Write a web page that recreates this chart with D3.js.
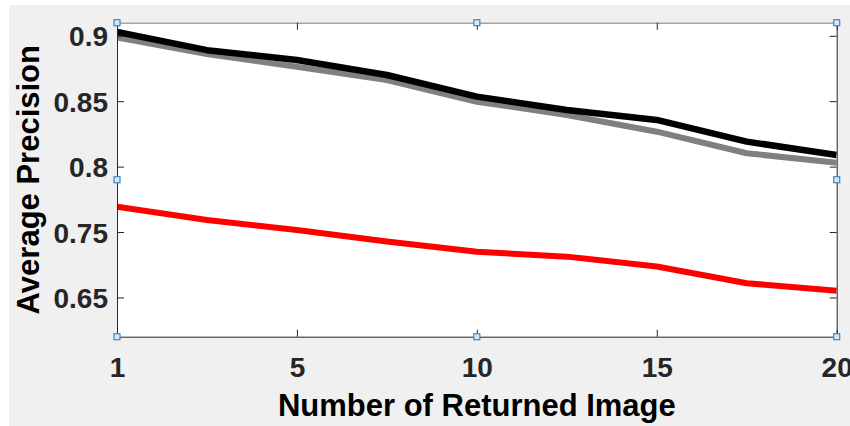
<!DOCTYPE html>
<html>
<head>
    <meta charset="utf-8">
    <script src="https://cdn.jsdelivr.net/npm/d3@7"></script>
    <style>
        html, body { margin: 0; padding: 0; background: white; }
        svg { display: block; }
        text { font-family: "Liberation Sans", Arial, sans-serif; font-weight: bold; }
    </style>
</head>
<body>
    <div id="chart"></div>
    <script>
        // Data points are evenly spaced along x (index 0..8)
        const pointIndex = [0, 1, 2, 3, 4, 5, 6, 7, 8];
        const xTickIndex = [0, 2, 4, 6, 8];
        const xTickLabels = ["1", "5", "10", "15", "20"];

        const yTickValues = [0.9, 0.85, 0.8, 0.75, 0.7];
        const yTickLabels = ["0.9", "0.85", "0.8", "0.75", "0.65"];

        const blackSeries = [0.903, 0.889, 0.8815, 0.870, 0.8535, 0.8433, 0.8357, 0.8191, 0.8089];
        const graySeries  = [0.8988, 0.8860, 0.8764, 0.8662, 0.8496, 0.8395, 0.8267, 0.8102, 0.8030];
        const redSeries   = [0.7694, 0.7592, 0.7516, 0.7427, 0.7350, 0.7312, 0.7236, 0.7109, 0.7052];

        const width = 850;
        const height = 426;
        const margin = { left: 117, top: 22.7, right: 850 - 836.7, bottom: 426 - 336.7 };

        const svg = d3.select("#chart")
            .append("svg")
            .attr("width", width)
            .attr("height", height);

        // figure background
        svg.append("rect")
            .attr("x", 9).attr("y", 5)
            .attr("width", width - 9).attr("height", height - 5)
            .attr("fill", "#f0f0f0");

        const x = d3.scaleLinear()
            .domain([0, 8])
            .range([margin.left, width - margin.right]);

        const y = d3.scaleLinear()
            .domain([0.67, 0.91])
            .range([height - margin.bottom, margin.top]);

        const x0 = x.range()[0], x1 = x.range()[1];
        const y0 = y.range()[0], y1 = y.range()[1];

        // plot area
        svg.append("rect")
            .attr("x", x0).attr("y", y1)
            .attr("width", x1 - x0).attr("height", y0 - y1)
            .attr("fill", "white");

        // lines
        const line = data => d3.line()
            .x((d, i) => x(pointIndex[i]))
            .y(d => y(d))(data);

        const series = [
            { values: graySeries, color: "#808080", w: 6 },
            { values: blackSeries, color: "#000000", w: 6.5 },
            { values: redSeries, color: "#ff0000", w: 6 }
        ];

        svg.append("clipPath").attr("id", "clip")
            .append("rect")
            .attr("x", x0).attr("y", y1)
            .attr("width", x1 - x0).attr("height", y0 - y1);

        svg.append("g")
            .attr("clip-path", "url(#clip)")
            .selectAll("path")
            .data(series)
            .join("path")
            .attr("d", d => line(d.values))
            .attr("fill", "none")
            .attr("stroke", d => d.color)
            .attr("stroke-width", d => d.w)
            .attr("stroke-linejoin", "round");

        // axes with inward ticks
        const tickLen = 7;
        const axisColor = "#262626";

        const bottomAxis = d3.axisBottom(x)
            .tickValues(xTickIndex)
            .tickFormat((d, i) => xTickLabels[i])
            .tickSizeInner(-tickLen)
            .tickSizeOuter(0)
            .tickPadding(19);

        const gx = svg.append("g")
            .attr("transform", `translate(0,${y0})`)
            .call(bottomAxis);
        gx.selectAll("text")
            .attr("font-size", 28)
            .attr("fill", axisColor)
            .attr("dy", "0.75em");

        const topAxis = d3.axisTop(x)
            .tickValues(xTickIndex)
            .tickFormat("")
            .tickSizeInner(-tickLen)
            .tickSizeOuter(0);
        const gxt = svg.append("g")
            .attr("transform", `translate(0,${y1})`)
            .call(topAxis);

        const leftAxis = d3.axisLeft(y)
            .tickValues(yTickValues)
            .tickFormat((d, i) => yTickLabels[i])
            .tickSizeInner(-tickLen)
            .tickSizeOuter(0)
            .tickPadding(9);
        const gy = svg.append("g")
            .attr("transform", `translate(${x0},0)`)
            .call(leftAxis);
        gy.selectAll("text")
            .attr("font-size", 28)
            .attr("fill", axisColor)
            .attr("dy", "0.36em");

        const rightAxis = d3.axisRight(y)
            .tickValues(yTickValues)
            .tickFormat("")
            .tickSizeInner(-tickLen)
            .tickSizeOuter(0);
        const gyr = svg.append("g")
            .attr("transform", `translate(${x1},0)`)
            .call(rightAxis);

        [gx, gxt, gy, gyr].forEach(g => {
            g.select(".domain").attr("stroke", axisColor).attr("stroke-width", 1);
            g.selectAll(".tick line").attr("stroke", axisColor).attr("stroke-width", 1);
        });
        gxt.select(".domain").attr("stroke", "#7a7a7a");

        // axis labels
        svg.append("text")
            .attr("x", (x0 + x1) / 2)
            .attr("y", 416)
            .attr("text-anchor", "middle")
            .attr("font-size", 31)
            .attr("fill", "black")
            .text("Number of Returned Image");

        svg.append("text")
            .attr("transform", `translate(39,${(y0 + y1) / 2}) rotate(-90)`)
            .attr("text-anchor", "middle")
            .attr("font-size", 31)
            .attr("fill", "black")
            .text("Average Precision");

        // selection handles
        const handles = [
            [x0, y1], [(x0 + x1) / 2, y1], [x1, y1],
            [x0, (y0 + y1) / 2], [x1, (y0 + y1) / 2],
            [x0, y0], [(x0 + x1) / 2, y0], [x1, y0]
        ];
        svg.append("g")
            .selectAll("rect")
            .data(handles)
            .join("rect")
            .attr("x", d => d[0] - 3)
            .attr("y", d => d[1] - 3)
            .attr("width", 6)
            .attr("height", 6)
            .attr("fill", "#d6e8f7")
            .attr("stroke", "#3b88c9")
            .attr("stroke-width", 1.2);
    </script>
</body>
</html>
